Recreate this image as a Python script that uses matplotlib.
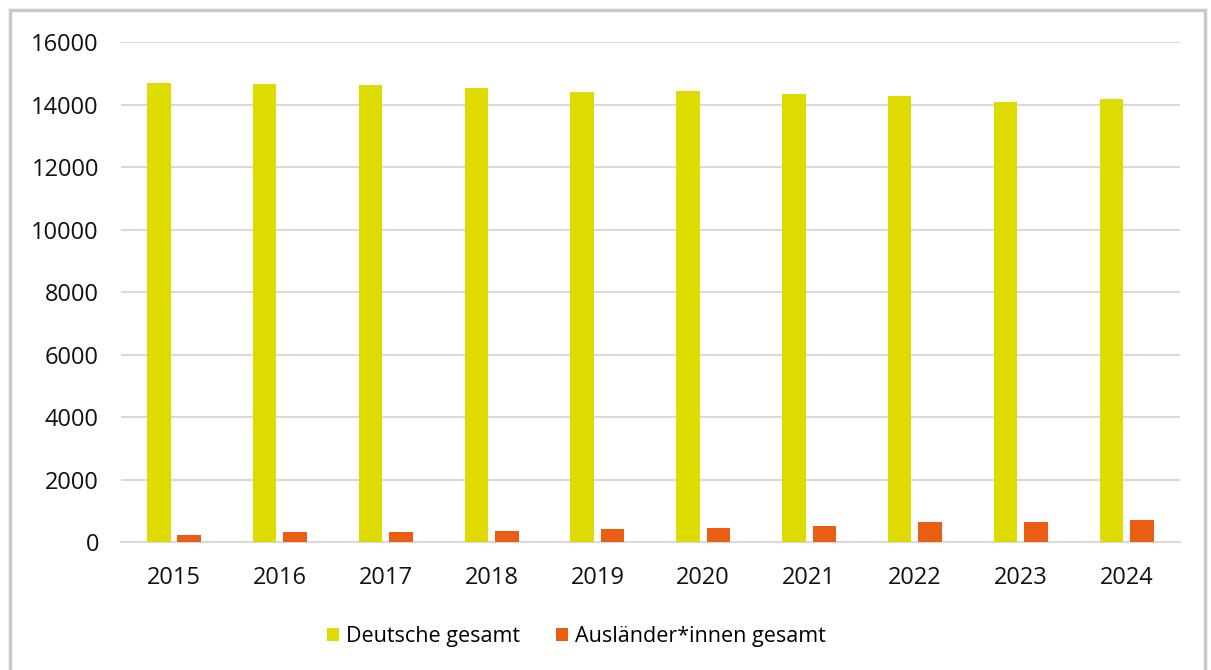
import numpy as np
import matplotlib
matplotlib.use("Agg")
from matplotlib import pyplot as plt
from matplotlib.patches import Rectangle

years = ["2015", "2016", "2017", "2018", "2019", "2020", "2021", "2022", "2023", "2024"]
deutsche = [14690, 14670, 14625, 14535, 14410, 14430, 14340, 14285, 14090, 14190]
auslaender = [228, 330, 330, 352, 410, 455, 512, 650, 640, 705]

labels = ["Deutsche gesamt", "Ausländer*innen gesamt"]
col_de = "#dedb00"
col_aus = "#e95e13"

plt.rcParams['font.family'] = ['Open Sans', 'DejaVu Sans']

fig = plt.figure(figsize=(12.11, 6.70), dpi=100)
ax = fig.add_axes([0.1, 0.191, 0.874, 0.746])

x = np.arange(len(years))
w = 0.223
ax.bar(x - 0.144, deutsche, w, color=col_de, label=labels[0], zorder=3)
ax.bar(x + 0.144, auslaender, w, color=col_aus, label=labels[1], zorder=3)

ax.set_xlim(-0.5, len(years) - 0.5)
ax.set_ylim(0, 16000)
ax.set_yticks(np.arange(0, 16001, 2000))
ax.set_xticks(x)
ax.set_xticklabels(years)
ax.grid(axis='y', color='#d9d9d9', linewidth=1.5, zorder=0)
for s in ['top', 'right', 'left']:
    ax.spines[s].set_visible(False)
ax.spines['bottom'].set_color('#d9d9d9')
ax.spines['bottom'].set_linewidth(1.5)
ax.tick_params(axis='both', length=0, labelsize=17, colors='#111111')
ax.tick_params(axis='y', pad=16)
ax.tick_params(axis='x', pad=17)

leg = fig.legend(loc='center', bbox_to_anchor=(0.476, 0.05), ncol=2, frameon=False,
                 fontsize=15.5, handlelength=0.55, handleheight=0.55,
                 handletextpad=0.3, columnspacing=1.7)

# grey frame around the chart
fig.patches.append(Rectangle((0.008, -0.02), 0.987, 1.005, transform=fig.transFigure,
                             fill=False, edgecolor='#c8c8c8', linewidth=2.5))

fig.savefig("out.png", dpi=100)
